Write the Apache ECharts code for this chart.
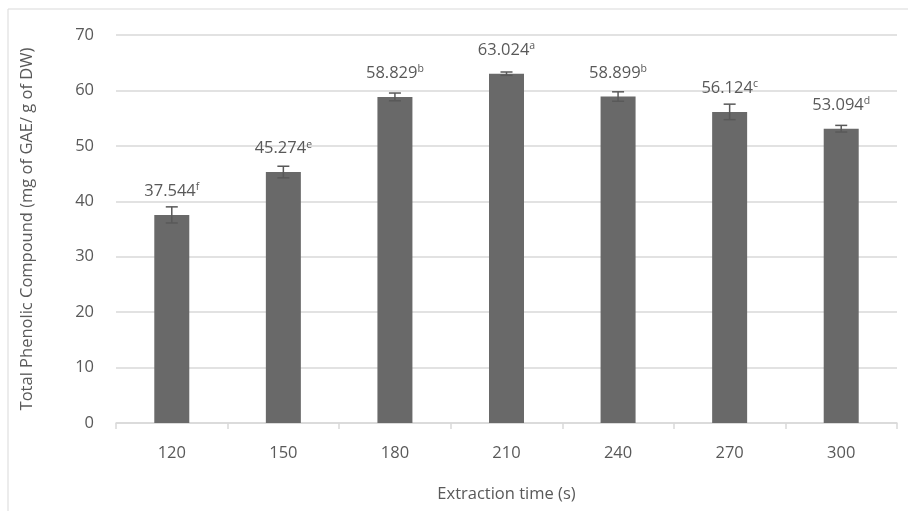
<!DOCTYPE html>
<html><head><meta charset="utf-8">
<script src="https://cdn.jsdelivr.net/npm/echarts@6/dist/echarts.min.js"></script>
<style>html,body{margin:0;padding:0;background:#fff}#c{width:908px;height:511px}</style>
</head><body><div id="c"></div>
<script>
const categories = ['120','150','180','210','240','270','300'];
const values = [37.544, 45.274, 58.829, 63.024, 58.899, 56.124, 53.094];
const errors = [1.45, 1.05, 0.7, 0.3, 0.85, 1.4, 0.6];
const letters = ['f','e','b','a','b','c','d'];
const yTicks = [0,10,20,30,40,50,60,70];

const FONT = '"Open Sans", "Noto Sans", sans-serif';
const FS = 16.5;
const chart = echarts.init(document.getElementById('c'));
chart.setOption({
  backgroundColor: '#fff',
  animation: false,
  graphic: [{type:'polyline', shape:{points:[[8,511],[8,9],[908,9]]}, style:{stroke:'#d9d9d9', lineWidth:1, fill:null}}],
  grid: {left:116, right:11, top:35, bottom:88},
  xAxis: {
    type:'category', data:categories,
    axisLine:{lineStyle:{color:'#d9d9d9', width:1.5}},
    axisTick:{show:true, length:6, lineStyle:{color:'#d9d9d9', width:1.5}},
    axisLabel:{color:'#595959', fontSize:FS, fontFamily:FONT, margin:22},
    name:'Extraction time (s)', nameLocation:'middle', nameGap:63,
    nameTextStyle:{color:'#595959', fontSize:FS, fontFamily:FONT}
  },
  yAxis: {
    type:'value', min:yTicks[0], max:yTicks[yTicks.length-1], interval:10,
    axisLine:{show:false}, axisTick:{show:false},
    splitLine:{lineStyle:{color:'#d9d9d9', width:1.5}},
    axisLabel:{color:'#595959', fontSize:FS, fontFamily:FONT, margin:22},
    name:'Total Phenolic Compound (mg of GAE/ g of DW)', nameLocation:'middle', nameGap:80,
    nameTextStyle:{color:'#595959', fontSize:FS, fontFamily:FONT}
  },
  series: [
    {
      type:'bar', data:values, barWidth:35,
      itemStyle:{color:'#696969'},
      label:{
        show:true, position:'top', distance:14,
        formatter: p => '{v|' + values[p.dataIndex].toFixed(3) + '}{s|' + letters[p.dataIndex] + '}',
        rich:{
          v:{color:'#595959', fontSize:FS, fontFamily:FONT},
          s:{color:'#595959', fontSize:10.5, fontFamily:FONT, verticalAlign:'top', padding:[0,0,8,0]}
        }
      }
    },
    {
      type:'custom',
      data: values.map((v,i)=>[i, v-errors[i], v+errors[i]]),
      encode:{x:0, y:[1,2]},
      z:10,
      renderItem: (params, api) => {
        const lo = api.coord([api.value(0), api.value(1)]);
        const hi = api.coord([api.value(0), api.value(2)]);
        const x = lo[0], hw = 6;
        const st = {stroke:'#595959', lineWidth:1.5};
        return {type:'group', children:[
          {type:'line', shape:{x1:x, y1:lo[1], x2:x, y2:hi[1]}, style:st},
          {type:'line', shape:{x1:x-hw, y1:lo[1], x2:x+hw, y2:lo[1]}, style:st},
          {type:'line', shape:{x1:x-hw, y1:hi[1], x2:x+hw, y2:hi[1]}, style:st}
        ]};
      }
    }
  ]
});
</script></body></html>
